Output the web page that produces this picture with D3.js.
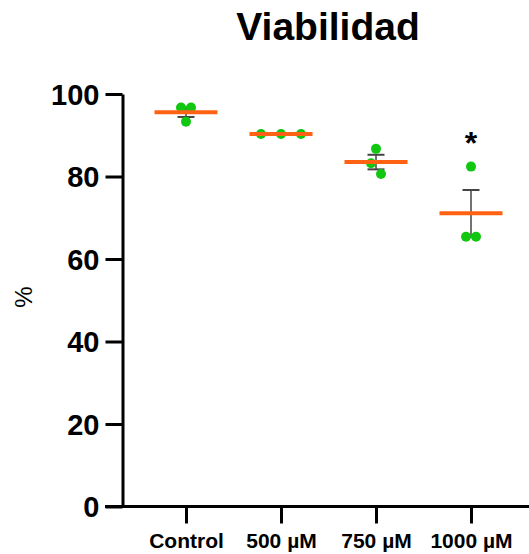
<!DOCTYPE html>
<html>
<head>
<meta charset="utf-8">
<script src="https://cdn.jsdelivr.net/npm/d3@7"></script>
<style>
  body { margin: 0; background: #fff; }
  text { font-family: "Liberation Sans", Arial, sans-serif; }
</style>
</head>
<body>
<script>
var categories = ["Control", "500 µM", "750 µM", "1000 µM"];
var replicates = [
  [96.7, 96.7, 93.3],
  [90.3, 90.3, 90.3],
  [86.7, 83.2, 80.6],
  [82.4, 65.4, 65.4]
];
var jitter = [
  [-5, 5, 0],
  [-20, 0, 20],
  [0, -5, 5],
  [0, -5, 5]
];
var yTicks = [0, 20, 40, 60, 80, 100];
var significant = [false, false, false, true];

var width = 529, height = 554;
var yAxisX = 122.5, xAxisY = 506.5;

var svg = d3.select("body").append("svg")
  .attr("width", width).attr("height", height);

var x = d3.scalePoint().domain(categories).range([186, 471]);
var y = d3.scaleLinear().domain([0, 100]).range([506.5, 94]);

// title
svg.append("text")
  .attr("x", 328).attr("y", 40)
  .attr("text-anchor", "middle")
  .style("font-size", "39px").style("font-weight", "bold")
  .text("Viabilidad");

// y axis
var yAxis = svg.append("g")
  .attr("transform", "translate(" + yAxisX + ",0)")
  .call(d3.axisLeft(y).tickValues(yTicks).tickSize(17).tickPadding(6).tickSizeOuter(0));
yAxis.select(".domain").attr("stroke", "#000").attr("stroke-width", 3);
yAxis.selectAll(".tick line").attr("stroke", "#000").attr("stroke-width", 3);
yAxis.selectAll(".tick text")
  .style("font-size", "29px").style("font-weight", "bold")
  .attr("fill", "#000").attr("dy", "0.36em");

// x axis
svg.append("line")
  .attr("x1", 105).attr("x2", width)
  .attr("y1", xAxisY).attr("y2", xAxisY)
  .attr("stroke", "#000").attr("stroke-width", 3);
var xAxis = svg.append("g")
  .attr("transform", "translate(0," + xAxisY + ")")
  .call(d3.axisBottom(x).tickSize(17).tickPadding(10).tickSizeOuter(0));
xAxis.select(".domain").remove();
xAxis.selectAll(".tick line").attr("stroke", "#000").attr("stroke-width", 3);
xAxis.selectAll(".tick text")
  .style("font-size", "21px").style("font-weight", "bold")
  .attr("fill", "#000");

// y label
svg.append("text")
  .attr("transform", "translate(32,297) rotate(-90)")
  .attr("text-anchor", "middle")
  .style("font-size", "24px")
  .text("%");

var stats = replicates.map(function (vals, i) {
  var m = d3.mean(vals);
  var sem = d3.deviation(vals) / Math.sqrt(vals.length);
  return { cat: categories[i], mean: m, sem: sem, vals: vals, i: i };
});

var g = svg.append("g");

// error bars
stats.forEach(function (s) {
  var cx = x(s.cat);
  if (s.sem > 0) {
    g.append("line")
      .attr("x1", cx).attr("x2", cx)
      .attr("y1", y(s.mean + s.sem)).attr("y2", y(s.mean - s.sem))
      .attr("stroke", "#444").attr("stroke-width", 1.5);
    [s.mean + s.sem, s.mean - s.sem].forEach(function (v) {
      g.append("line")
        .attr("x1", cx - 8.5).attr("x2", cx + 8.5)
        .attr("y1", y(v)).attr("y2", y(v))
        .attr("stroke", "#444").attr("stroke-width", 2);
    });
  }
});

// points
stats.forEach(function (s) {
  s.vals.forEach(function (v, j) {
    g.append("circle")
      .attr("cx", x(s.cat) + jitter[s.i][j])
      .attr("cy", y(v))
      .attr("r", 5)
      .attr("fill", "#12c712");
  });
});

// mean lines
stats.forEach(function (s) {
  g.append("line")
    .attr("x1", x(s.cat) - 31.5).attr("x2", x(s.cat) + 31.5)
    .attr("y1", y(s.mean)).attr("y2", y(s.mean))
    .attr("stroke", "#ff6213").attr("stroke-width", 4);
});

// significance
stats.forEach(function (s) {
  if (significant[s.i]) {
    svg.append("text")
      .attr("x", x(s.cat)).attr("y", 154)
      .attr("text-anchor", "middle")
      .style("font-size", "32px").style("font-weight", "bold")
      .text("*");
  }
});
</script>
</body>
</html>
